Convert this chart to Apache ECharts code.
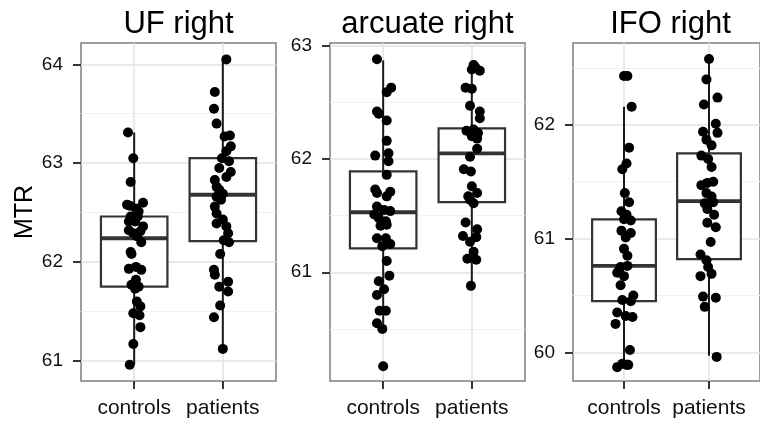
<!DOCTYPE html>
<html>
<head>
<meta charset="utf-8">
<script src="https://cdn.jsdelivr.net/npm/echarts@6/dist/echarts.min.js"></script>
<style>html,body{margin:0;padding:0;background:#fff}#c{width:760px;height:424px}</style>
</head>
<body>
<div id="c"></div>
<script>
// ---------- data ----------
const categories = ['controls', 'patients'];
const titles = ['UF right', 'arcuate right', 'IFO right'];
const yLabel = 'MTR';

// y tick labels per panel
const ufTicks = [61, 62, 63, 64];
const arcTicks = [61, 62, 63];
const ifoTicks = [60, 61, 62];
const ufMinor = [61.5, 62.5, 63.5];
const arcMinor = [60.5, 61.5, 62.5];
const ifoMinor = [60.5, 61.5, 62.5];
const ufRange = [60.795, 64.216];
const arcRange = [60.04, 63.024];
const ifoRange = [59.748, 62.72];

// box stats: [lower whisker, Q1, median, Q3, upper whisker] for controls, patients
const ufBoxes = [[60.96, 61.75, 62.24, 62.46, 63.31], [61.12, 62.21, 62.68, 63.05, 64.05]];
const arcBoxes = [[60.50, 61.21, 61.53, 61.89, 62.87], [60.88, 61.62, 62.05, 62.27, 62.83]];
const ifoBoxes = [[59.88, 60.45, 60.76, 61.17, 62.16], [59.97, 60.82, 61.33, 61.75, 62.58]];

// individual values and their horizontal jitter (in category units)
const ufControlsY = [63.31, 63.05, 62.81, 62.58, 62.57, 62.60, 62.54, 62.51, 62.46, 62.41, 62.41, 62.36, 62.32, 62.31, 62.26, 62.20, 62.10, 62.08, 61.95, 61.92, 61.82, 61.78, 61.75, 61.73, 61.77, 61.60, 61.55, 61.48, 61.46, 61.34, 61.17, 60.96, 62.46, 62.29, 61.93];
const ufControlsJ = [-0.07, -0.01, -0.04, -0.08, -0.05, 0.10, 0.02, 0.05, -0.04, -0.06, 0.01, 0.10, -0.06, 0.07, 0.03, 0.08, -0.04, -0.03, 0.02, 0.08, 0.02, 0.00, 0.05, 0.01, -0.03, 0.03, 0.07, -0.01, 0.06, 0.07, -0.01, -0.05, 0.04, -0.01, -0.06];
const ufPatientsY = [64.05, 63.72, 63.55, 63.40, 63.27, 63.28, 63.17, 63.12, 63.05, 63.02, 62.95, 62.91, 62.86, 62.83, 62.76, 62.73, 62.69, 62.66, 62.63, 62.56, 62.49, 62.43, 62.39, 62.36, 62.29, 62.22, 62.20, 62.08, 61.92, 61.87, 61.80, 61.75, 61.70, 61.56, 61.44, 61.12];
const ufPatientsJ = [0.04, -0.09, -0.10, -0.07, 0.02, 0.08, 0.09, 0.04, -0.01, 0.07, -0.04, 0.09, 0.04, -0.09, -0.07, -0.04, 0.00, -0.07, -0.02, -0.09, -0.07, 0.00, -0.07, 0.04, 0.06, 0.01, 0.07, -0.03, -0.10, -0.09, 0.06, -0.04, 0.06, -0.03, -0.10, 0.00];

const arcControlsY = [62.88, 62.59, 62.63, 62.42, 62.40, 62.34, 62.16, 62.03, 62.05, 61.98, 61.86, 61.73, 61.70, 61.71, 61.67, 61.58, 61.55, 61.51, 61.54, 61.48, 61.45, 61.41, 61.42, 61.30, 61.30, 61.25, 61.23, 61.10, 60.97, 60.92, 60.85, 60.80, 60.66, 60.66, 60.55, 60.50, 60.17];
const arcControlsJ = [-0.07, 0.04, 0.09, -0.07, -0.05, 0.04, 0.04, -0.09, 0.06, 0.06, 0.04, -0.09, -0.07, 0.08, 0.04, -0.07, 0.01, -0.10, 0.08, -0.05, 0.03, -0.03, 0.04, -0.07, 0.03, 0.08, -0.01, 0.04, 0.07, -0.05, 0.01, -0.07, -0.04, 0.03, -0.07, -0.01, 0.00];
const arcPatientsY = [62.83, 62.78, 62.79, 62.81, 62.63, 62.62, 62.47, 62.42, 62.36, 62.25, 62.26, 62.23, 62.20, 62.18, 62.09, 62.02, 61.91, 61.89, 61.76, 61.70, 61.67, 61.64, 61.61, 61.44, 61.38, 61.32, 61.31, 61.27, 61.18, 61.12, 61.11, 60.88];
const arcPatientsJ = [0.02, 0.09, 0.00, 0.04, -0.07, 0.00, -0.02, 0.09, 0.09, -0.06, 0.02, 0.07, 0.00, 0.06, 0.06, -0.02, -0.09, -0.01, 0.00, 0.06, -0.04, -0.02, 0.02, -0.07, 0.06, -0.10, 0.05, -0.02, 0.02, -0.05, 0.05, -0.01];

const ifoControlsY = [62.43, 62.43, 62.16, 61.80, 61.61, 61.66, 61.40, 61.32, 61.24, 61.21, 61.16, 61.17, 61.07, 61.05, 61.01, 60.91, 60.85, 60.75, 60.76, 60.70, 60.67, 60.72, 60.59, 60.46, 60.50, 60.45, 60.35, 60.32, 60.31, 60.25, 60.02, 59.87, 59.90, 59.89, 59.89];
const ifoControlsJ = [0.00, 0.04, 0.09, 0.06, -0.02, 0.03, 0.01, 0.06, -0.03, 0.03, 0.08, 0.00, -0.03, 0.08, 0.02, 0.00, 0.04, -0.04, 0.04, -0.08, 0.00, -0.06, -0.04, -0.02, 0.11, 0.08, -0.08, 0.02, 0.10, -0.10, 0.07, -0.08, -0.02, 0.03, 0.05];
const ifoPatientsY = [62.58, 62.40, 62.24, 62.18, 62.01, 61.93, 61.94, 61.87, 61.82, 61.73, 61.70, 61.63, 61.47, 61.49, 61.50, 61.40, 61.37, 61.31, 61.32, 61.26, 61.21, 61.14, 61.10, 60.97, 60.86, 60.81, 60.75, 60.69, 60.67, 60.49, 60.48, 60.40, 59.96];
const ifoPatientsJ = [0.00, -0.03, 0.10, -0.06, 0.08, 0.10, -0.07, -0.03, 0.03, -0.09, -0.01, 0.03, -0.09, -0.02, 0.05, -0.03, 0.03, -0.05, 0.05, -0.02, 0.06, -0.02, 0.08, 0.02, -0.10, -0.03, -0.01, 0.03, -0.10, -0.07, 0.08, -0.05, 0.09];

// ---------- layout ----------
const FONT = '"Liberation Sans", Arial, Helvetica, sans-serif';
const panels = [
  { left: 81, title: titles[0], ticks: ufTicks, minor: ufMinor, range: ufRange, boxes: ufBoxes,
    groups: [[ufControlsY, ufControlsJ], [ufPatientsY, ufPatientsJ]] },
  { left: 330, title: titles[1], ticks: arcTicks, minor: arcMinor, range: arcRange, boxes: arcBoxes,
    groups: [[arcControlsY, arcControlsJ], [arcPatientsY, arcPatientsJ]] },
  { left: 573, title: titles[2], ticks: ifoTicks, minor: ifoMinor, range: ifoRange, boxes: ifoBoxes,
    groups: [[ifoControlsY, ifoControlsJ], [ifoPatientsY, ifoPatientsJ]] }
];
const PW = 195, PT = 43, PH = 338;
const catPos = categories.map((c, i) => i + 1);

const grids = [], xAxes = [], yAxes = [], series = [], graphics = [];

function renderBox(params, api) {
  const x = api.value(0);
  const lo = api.coord([x, api.value(1)]);
  const q1 = api.coord([x, api.value(2)]);
  const md = api.coord([x, api.value(3)]);
  const q3 = api.coord([x, api.value(4)]);
  const hi = api.coord([x, api.value(5)]);
  const w = api.size([0.75, 0])[0];
  const l = q1[0] - w / 2;
  return {
    type: 'group',
    children: [
      { type: 'line', shape: { x1: hi[0], y1: hi[1], x2: q3[0], y2: q3[1] }, style: { stroke: '#1a1a1a', lineWidth: 2 } },
      { type: 'line', shape: { x1: lo[0], y1: lo[1], x2: q1[0], y2: q1[1] }, style: { stroke: '#1a1a1a', lineWidth: 2 } },
      { type: 'rect', shape: { x: l, y: q3[1], width: w, height: q1[1] - q3[1] }, style: { fill: '#ffffff', stroke: '#333333', lineWidth: 2.2 } },
      { type: 'line', shape: { x1: l, y1: md[1], x2: l + w, y2: md[1] }, style: { stroke: '#333333', lineWidth: 3.8 } }
    ]
  };
}

panels.forEach((p, i) => {
  grids.push({ left: p.left, top: PT, width: PW, height: PH, show: true,
    borderColor: '#7f7f7f', borderWidth: 1.5, backgroundColor: '#ffffff' });
  xAxes.push({
    type: 'value', gridIndex: i, min: 0.4, max: 2.6,
    axisLine: { show: false },
    axisTick: { show: true, customValues: catPos, length: 8, lineStyle: { color: '#222', width: 1.8 } },
    axisLabel: { show: true, customValues: catPos, formatter: v => categories[Math.round(v) - 1],
      fontSize: 21, color: '#111', fontFamily: FONT, margin: 17 },
    splitLine: { show: false }
  });
  yAxes.push({
    type: 'value', gridIndex: i, min: p.range[0], max: p.range[1],
    axisLine: { show: false },
    axisTick: { show: true, customValues: p.ticks, length: 8, lineStyle: { color: '#222', width: 1.8 } },
    axisLabel: { show: true, customValues: p.ticks, fontSize: 19, color: '#111', fontFamily: FONT, margin: 18 },
    splitLine: { show: false }
  });
  const gridLines = []
    .concat(p.minor.map(v => ({ yAxis: v, lineStyle: { color: '#f1f1f1', width: 1.2, type: 'solid' } })))
    .concat(p.ticks.map(v => ({ yAxis: v, lineStyle: { color: '#e2e2e2', width: 1.5, type: 'solid' } })))
    .concat(catPos.map(v => ({ xAxis: v, lineStyle: { color: '#e2e2e2', width: 1.5, type: 'solid' } })));
  series.push({
    type: 'custom', xAxisIndex: i, yAxisIndex: i, z: 3,
    renderItem: renderBox,
    encode: { x: 0, y: [1, 2, 3, 4, 5] },
    data: p.boxes.map((b, k) => [catPos[k]].concat(b)),
    markLine: { silent: true, symbol: 'none', z: 1, label: { show: false }, animation: false, data: gridLines },
    animation: false
  });
  const pts = [];
  p.groups.forEach((g, k) => {
    g[0].forEach((v, j) => pts.push([catPos[k] + g[1][j], v]));
  });
  series.push({
    type: 'scatter', xAxisIndex: i, yAxisIndex: i, z: 4,
    symbol: 'circle', symbolSize: 10,
    itemStyle: { color: '#000', opacity: 1 },
    data: pts, animation: false, silent: true
  });
  graphics.push({ type: 'text', x: p.left + PW / 2, y: 24,
    style: { text: p.title, font: '31px ' + FONT, fill: '#000', align: 'center', verticalAlign: 'middle' } });
});

graphics.push({ type: 'text', x: 25, y: PT + PH / 2, rotation: Math.PI / 2,
  style: { text: yLabel, font: '25px ' + FONT, fill: '#000', align: 'center', verticalAlign: 'middle' } });

const chart = echarts.init(document.getElementById('c'), null, { renderer: 'canvas' });
chart.setOption({
  backgroundColor: '#ffffff',
  animation: false,
  grid: grids,
  xAxis: xAxes,
  yAxis: yAxes,
  series: series,
  graphic: graphics
});
</script>
</body>
</html>
